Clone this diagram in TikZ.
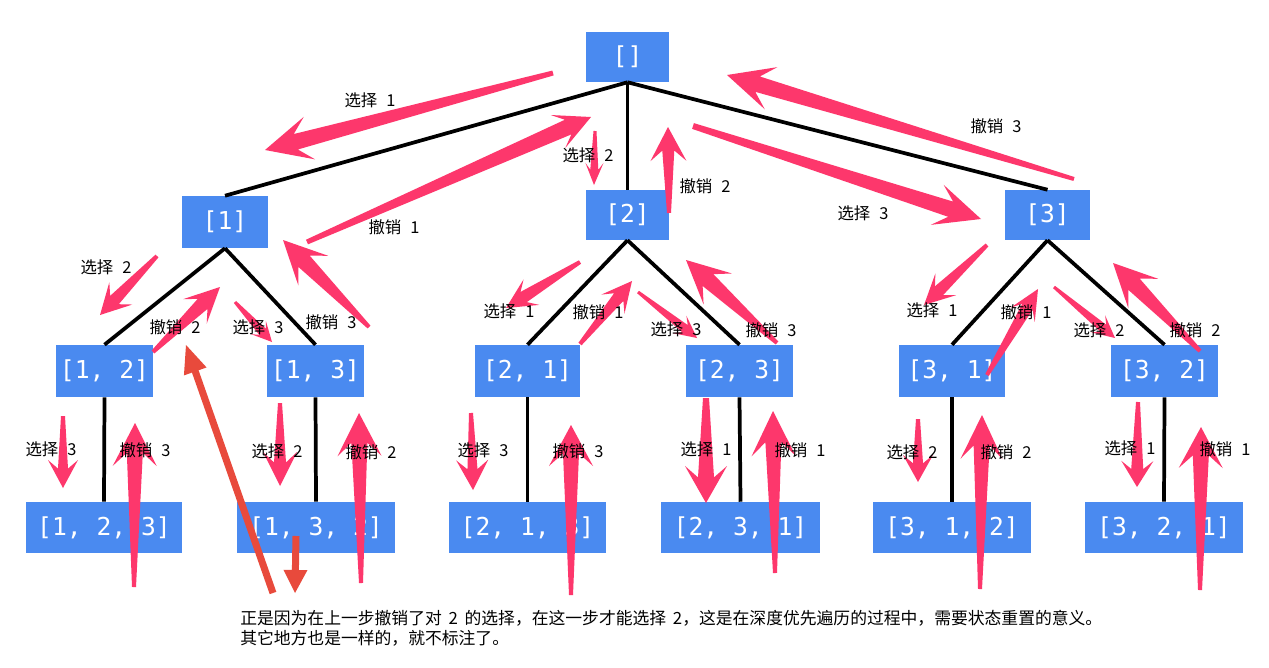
\documentclass[tikz,border=0pt]{standalone}
\usepackage{fontspec}
\newfontfamily\cjk{Noto Sans CJK SC}
\newfontfamily\monof{DejaVu Sans Mono}
\usetikzlibrary{calc}
\definecolor{boxblue}{RGB}{74,138,240}
\definecolor{pinkarr}{RGB}{253,55,108}
\definecolor{redarr}{RGB}{232,74,60}
% name, tail, tip, head length, head half width, neck half width, tail half width (px)
\newcommand\skarr[7]{%
 \coordinate (#1t) at #2;
 \coordinate (#1h) at #3;
 \coordinate (#1b) at ($(#1h)!#4*0.75pt!(#1t)$);
 \coordinate (#1n) at ($(#1h)!#4*0.52pt!(#1t)$);
 \fill[pinkarr] ($(#1t)!#7*0.75pt!90:(#1h)$) -- ($(#1n)!#6*0.75pt!90:(#1h)$) -- ($(#1b)!#5*0.75pt!90:(#1h)$) -- (#1h) -- ($(#1b)!#5*0.75pt!-90:(#1h)$) -- ($(#1n)!#6*0.75pt!-90:(#1h)$) -- ($(#1t)!#7*0.75pt!-90:(#1h)$) -- cycle;
}
% name, tail, tip, head length, head half width, shaft half width
\newcommand\redarr[6]{%
 \coordinate (#1t) at #2;
 \coordinate (#1h) at #3;
 \coordinate (#1b) at ($(#1h)!#4*0.75pt!(#1t)$);
 \fill[redarr] ($(#1t)!#6*0.75pt!90:(#1h)$) -- ($(#1b)!#6*0.75pt!90:(#1h)$) -- ($(#1b)!#5*0.75pt!90:(#1h)$) -- (#1h) -- ($(#1b)!#5*0.75pt!-90:(#1h)$) -- ($(#1b)!#6*0.75pt!-90:(#1h)$) -- ($(#1t)!#6*0.75pt!-90:(#1h)$) -- cycle;
}
\tikzset{
 box/.style={fill=boxblue, text=white, inner sep=0pt, font=\monof\fontsize{18.5}{21}\selectfont},
 edge/.style={draw=black, line width=2.8pt},
 lbl/.style={inner sep=0pt, font=\cjk\fontsize{12.3}{14}\selectfont},
 note/.style={inner sep=0pt, anchor=west, font=\cjk\fontsize{12.6}{15}\selectfont},
}
\begin{document}
\begin{tikzpicture}[x=0.75pt,y=-0.75pt]
\useasboundingbox (0,0) rectangle (1269,667);
\fill[white] (0,0) rectangle (1269,667);
% boxes
\node[box, minimum width=83*0.75pt, minimum height=50*0.75pt] (r) at (627.5,57) {[]};
\node[box, minimum width=86*0.75pt, minimum height=52*0.75pt] (n1) at (225,222) {[1]};
\node[box, minimum width=83*0.75pt, minimum height=50*0.75pt] (n2) at (627.5,215) {[2]};
\node[box, minimum width=85*0.75pt, minimum height=50*0.75pt] (n3) at (1047.5,215) {[3]};
\node[box, minimum width=97*0.75pt, minimum height=52*0.75pt] (n12) at (104.5,371) {[1, 2]};
\node[box, minimum width=97*0.75pt, minimum height=52*0.75pt] (n13) at (315.5,371) {[1, 3]};
\node[box, minimum width=105*0.75pt, minimum height=52*0.75pt] (n21) at (527.5,371) {[2, 1]};
\node[box, minimum width=107*0.75pt, minimum height=52*0.75pt] (n23) at (739.5,371) {[2, 3]};
\node[box, minimum width=106*0.75pt, minimum height=52*0.75pt] (n31) at (952,371) {[3, 1]};
\node[box, minimum width=107*0.75pt, minimum height=52*0.75pt] (n32) at (1164.5,371) {[3, 2]};
\node[box, minimum width=156*0.75pt, minimum height=51*0.75pt] (n123) at (104,527.5) {[1, 2, 3]};
\node[box, minimum width=158*0.75pt, minimum height=51*0.75pt] (n132) at (316,527.5) {[1, 3, 2]};
\node[box, minimum width=157*0.75pt, minimum height=51*0.75pt] (n213) at (527.5,527.5) {[2, 1, 3]};
\node[box, minimum width=159*0.75pt, minimum height=51*0.75pt] (n231) at (740.5,527.5) {[2, 3, 1]};
\node[box, minimum width=158*0.75pt, minimum height=51*0.75pt] (n312) at (952,527.5) {[3, 1, 2]};
\node[box, minimum width=158*0.75pt, minimum height=51*0.75pt] (n321) at (1164,527.5) {[3, 2, 1]};
% edges
\draw[edge] (r.south) -- (n1.north);
\draw[edge] (r.south) -- (n2.north);
\draw[edge] (r.south) -- (n3.north);
\draw[edge] (n1.south) -- (n12.north);
\draw[edge] (n1.south) -- (n13.north);
\draw[edge] (n2.south) -- (n21.north);
\draw[edge] (n2.south) -- (n23.north);
\draw[edge] (n3.south) -- (n31.north);
\draw[edge] (n3.south) -- (n32.north);
\draw[edge] (n12.south) -- (n123.north);
\draw[edge] (n13.south) -- (n132.north);
\draw[edge] (n21.south) -- (n213.north);
\draw[edge] (n23.south) -- (n231.north);
\draw[edge] (n31.south) -- (n312.north);
\draw[edge] (n32.south) -- (n321.north);
% pink arrows
\skarr{a1}{(553,73)}{(265,150)}{46}{22}{8}{2.5}
\skarr{a2}{(307,242)}{(591,117)}{36}{18}{8}{2.5}
\skarr{a3}{(595,131)}{(594,185)}{22}{9}{4}{1.5}
\skarr{a4}{(669,213)}{(668,127)}{34}{18}{6}{2}
\skarr{a5}{(693,126)}{(981,219)}{46}{21}{8}{3}
\skarr{a6}{(1074,179)}{(727,75)}{46}{22}{8}{2}
\skarr{a7}{(157,256)}{(100,315)}{30}{16}{6}{2}
\skarr{a8}{(153,352)}{(220,287)}{35}{17}{7}{2}
\skarr{a9}{(235,302)}{(272,342)}{20}{10}{4.5}{1.5}
\skarr{a10}{(369,327)}{(283,240)}{43}{21}{8}{2}
\skarr{a11}{(580,262)}{(506,308)}{30}{15}{6}{2}
\skarr{a12}{(580,344)}{(632,281)}{30}{15}{6}{2}
\skarr{a13}{(638,292)}{(697,338)}{22}{11}{4.5}{1.5}
\skarr{a14}{(777,343)}{(686,260)}{43}{21}{8}{2}
\skarr{a15}{(987,245)}{(924,305)}{30}{15}{6}{2}
\skarr{a16}{(987,375)}{(1038,289)}{30}{14}{6}{2}
\skarr{a17}{(1054,287)}{(1115,338)}{22}{11}{4.5}{1.5}
\skarr{a18}{(1200,351)}{(1113,263)}{43}{21}{8}{2}
\skarr{a19}{(63,416)}{(63,488)}{28}{15}{5}{2}
\skarr{a20}{(134,587)}{(135,423)}{43}{22}{8}{2}
\skarr{a21}{(280,403)}{(280,486)}{34}{17}{6}{2}
\skarr{a22}{(361,583)}{(359,413)}{43}{22}{8}{2}
\skarr{a23}{(471,413)}{(473,490)}{30}{16}{5}{2}
\skarr{a24}{(571,595)}{(571,425)}{41}{22}{8}{2}
\skarr{a25}{(706,398)}{(706,503)}{37}{21}{8}{3}
\skarr{a26}{(775,573)}{(773,411)}{45}{22}{8}{2}
\skarr{a27}{(918,419)}{(918,482)}{27}{15}{5}{2}
\skarr{a28}{(980,589)}{(982,415)}{44}{21}{8}{2}
\skarr{a29}{(1138,402)}{(1137,487)}{26}{16}{6}{2}
\skarr{a30}{(1200,590)}{(1201,427)}{41}{22}{8}{2}
% red arrows
\redarr{r1}{(273,593)}{(186,345)}{28}{12}{3.5}
\redarr{r2}{(296,536)}{(295,593)}{23}{12}{3.5}
% labels
\node[lbl] (l1) at (370,100) {选择\hspace{0.55em}1};
\node[lbl] (l2) at (394,227) {撤销\hspace{0.55em}1};
\node[lbl] (l3) at (588,155) {选择\hspace{0.55em}2};
\node[lbl] (l4) at (705,186) {撤销\hspace{0.55em}2};
\node[lbl] (l5) at (863,213) {选择\hspace{0.55em}3};
\node[lbl] (l6) at (996,126) {撤销\hspace{0.55em}3};
\node[lbl] (l7) at (106,267) {选择\hspace{0.55em}2};
\node[lbl] (l8) at (175,327) {撤销\hspace{0.55em}2};
\node[lbl] (l9) at (258,327) {选择\hspace{0.55em}3};
\node[lbl] (l10) at (331,322) {撤销\hspace{0.55em}3};
\node[lbl] (l11) at (509,311) {选择\hspace{0.55em}1};
\node[lbl] (l12) at (598,312) {撤销\hspace{0.55em}1};
\node[lbl] (l13) at (676,329) {选择\hspace{0.55em}3};
\node[lbl] (l14) at (771,330) {撤销\hspace{0.55em}3};
\node[lbl] (l15) at (932,310) {选择\hspace{0.55em}1};
\node[lbl] (l16) at (1026,312) {撤销\hspace{0.55em}1};
\node[lbl] (l17) at (1099,330) {选择\hspace{0.55em}2};
\node[lbl] (l18) at (1195,330) {撤销\hspace{0.55em}2};
\node[lbl] (l19) at (51,449) {选择\hspace{0.55em}3};
\node[lbl] (l20) at (145,450) {撤销\hspace{0.55em}3};
\node[lbl] (l21) at (277,451) {选择\hspace{0.55em}2};
\node[lbl] (l22) at (371,452) {撤销\hspace{0.55em}2};
\node[lbl] (l23) at (483,450) {选择\hspace{0.55em}3};
\node[lbl] (l24) at (578,451) {撤销\hspace{0.55em}3};
\node[lbl] (l25) at (706,449) {选择\hspace{0.55em}1};
\node[lbl] (l26) at (800,450) {撤销\hspace{0.55em}1};
\node[lbl] (l27) at (912,452) {选择\hspace{0.55em}2};
\node[lbl] (l28) at (1006,452) {撤销\hspace{0.55em}2};
\node[lbl] (l29) at (1130,448) {选择\hspace{0.55em}1};
\node[lbl] (l30) at (1225,449) {撤销\hspace{0.55em}1};
% note
\node[note] (t1) at (240,618) {正是因为在上一步撤销了对\hspace{0.4em}2\hspace{0.4em}的选择，在这一步才能选择\hspace{0.4em}2，这是在深度优先遍历的过程中，需要状态重置的意义。};
\node[note] (t2) at (240,638) {其它地方也是一样的，就不标注了。};
\end{tikzpicture}
\end{document}
